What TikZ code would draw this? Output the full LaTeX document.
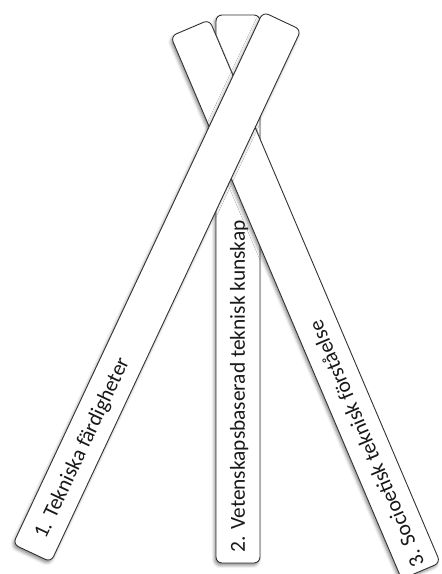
\documentclass[tikz,border=0pt]{standalone}
\usepackage{fontspec}
\setmainfont{Carlito}
\usetikzlibrary{shadows.blur}
\begin{document}
\begin{tikzpicture}[x=1pt,y=1pt,
  strip/.style={draw=black!80, line width=0.9pt, fill=white, rounded corners=6pt, inner sep=0pt,
    blur shadow={shadow xshift=-1.5pt, shadow yshift=-2.5pt, shadow blur radius=3pt, shadow opacity=45}},
  lbl/.style={font=\fontsize{21.4}{25}\selectfont, text=black!90, inner sep=0pt, anchor=base west}]
\useasboundingbox (0,0) rectangle (442,574);
\node[strip, minimum width=548pt, minimum height=44pt, rotate=90] (s2) at (238,285) {};
\path (s2.west) ++(90:11) ++(0:6.8) node[lbl, rotate=90] (t2) {2. Vetenskapsbaserad teknisk kunskap};
\node[strip, minimum width=590pt, minimum height=42pt, rotate=113.04] (s3) at (305.5,274.5) {};
\path (s3.west) ++(113.04:6) ++(23.04:6.8) node[lbl, rotate=113.04] (t3) {3. Socioetisk teknisk förståelse};
\node[strip, minimum width=588pt, minimum height=42pt, rotate=64.83] (s1) at (157,287) {};
\path (s1.west) ++(64.83:18) ++(-25.17:6.8) node[lbl, rotate=64.83] (t1) {1. Tekniska färdigheter};
\end{tikzpicture}
\end{document}
